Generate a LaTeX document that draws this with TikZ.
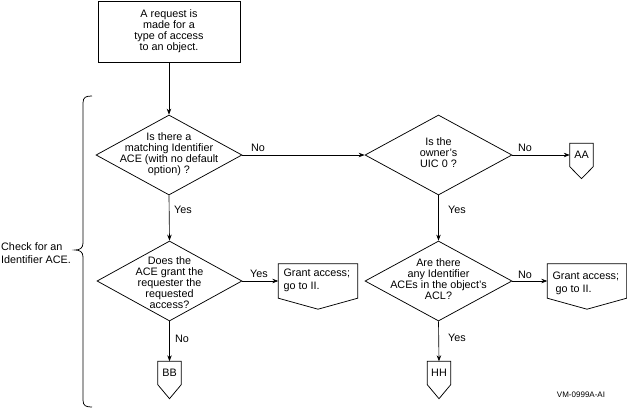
\documentclass[tikz,border=0pt]{standalone}
\usepackage{fontspec}
\setmainfont{Liberation Sans}
\usetikzlibrary{shapes.geometric,arrows.meta,calc}
\tikzset{
  txt/.style={font=\fontsize{10.8}{11}\selectfont, align=center, inner sep=0pt},
  lbl/.style={font=\fontsize{10.8}{11}\selectfont, inner sep=0pt},
  dia/.style={draw, diamond, minimum width=146pt, minimum height=80pt, inner sep=0pt, line width=0.75pt},
  arr/.style={-{Stealth[length=6pt,width=4.5pt]}, line width=0.65pt},
  outl/.style={line width=0.75pt, line join=miter},
  conn/.style={minimum width=23pt, minimum height=23pt, inner sep=0pt, font=\fontsize{10.8}{11}\selectfont},
  grant/.style={minimum width=79pt, minimum height=34pt, inner sep=0pt},
  grtxt/.style={font=\fontsize{10.8}{12.5}\selectfont, align=left, inner sep=0pt, anchor=north west}
}
\begin{document}
\begin{tikzpicture}[x=1pt,y=-1pt]
\useasboundingbox (0,0) rectangle (627,418);
% start box
\node[draw, line width=0.75pt, minimum width=142pt, minimum height=61pt, txt] (start) at (169,31.5)
  {A request is\\made for a\\type of access\\to an object.};
% diamonds
\node[dia] (d1) at (169,155) {};
\node[txt] (t1) at (169,154) {Is there a\\matching Identifier\\ACE (with no default\\option) ?};
\node[dia, minimum width=147pt] (d2) at (438.5,155) {};
\node[txt] (t2) at (438.5,153) {Is the\\owner's\\UIC 0 ?};
\node[dia, minimum width=145pt] (d3) at (169.5,281) {};
\node[txt] (t3) at (169.5,283) {Does the\\ACE grant the\\requester the\\requested\\access?};
\node[dia, minimum width=147pt] (d4) at (438.5,281) {};
\node[txt] (t4) at (438.5,279) {Are there\\any Identifier\\ACEs in the object's\\ACL?};
% grant boxes
\node[grant] (gl) at (318,281) {};
\draw[outl] (gl.north west) -- (gl.north east) -- (gl.south east) -- ($(gl.south)+(0,11)$) -- (gl.south west) -- cycle;
\node[grtxt] (glt) at ($(gl.north west)+(5,5)$) {Grant access;\\go to II.};
\node[grant] (gr) at (587,281) {};
\draw[outl] (gr.north west) -- (gr.north east) -- (gr.south east) -- ($(gr.south)+(0,11)$) -- (gr.south west) -- cycle;
\node[grtxt] (grt) at ($(gr.north west)+(5,8)$) {Grant access;\\\ go to II.};
% off-page connectors
\node[conn] (aa) at (581.5,155) {AA};
\draw[outl] (aa.north west) -- (aa.north east) -- (aa.south east) -- ($(aa.south)+(0,12)$) -- (aa.south west) -- cycle;
\node[conn] (bb) at (169.5,373) {BB};
\draw[outl] (bb.north west) -- (bb.north east) -- (bb.south east) -- ($(bb.south)+(0,14)$) -- (bb.south west) -- cycle;
\node[conn] (hh) at (439,373) {HH};
\draw[outl] (hh.north west) -- (hh.north east) -- (hh.south east) -- ($(hh.south)+(0,14)$) -- (hh.south west) -- cycle;
% connectors
\draw[arr] (start.south) -- (d1.north);
\draw[arr] (d1.east) -- (d2.west);
\draw[arr] (d2.east) -- (aa.west);
\draw[arr] (d1.south) -- (d3.north);
\draw[arr] (d2.south) -- (d4.north);
\draw[arr] (d3.east) -- (gl.west);
\draw[arr] (d4.east) -- (gr.west);
\draw[arr] (d3.south) -- (bb.north);
\draw[arr] (d4.south) -- (hh.north);
% labels
\node[lbl] (l1) at (258,148) {No};
\node[lbl] (l2) at (525,148) {No};
\node[lbl, anchor=west] (l3) at (174,210) {Yes};
\node[lbl] (l4) at (457,210) {Yes};
\node[lbl] (l5) at (259,274) {Yes};
\node[lbl] (l6) at (525,275) {No};
\node[lbl, anchor=west] (l7) at (175,339) {No};
\node[lbl] (l8) at (457,338) {Yes};
% brace
\draw[line width=0.75pt] (92,96) .. controls (86,96) and (83,97) .. (83,103) -- (83,243)
  .. controls (83,248) and (80,250) .. (75,250) .. controls (80,250) and (83,252) .. (83,257)
  -- (83,400) .. controls (83,406) and (86,407) .. (92,407);
\node[lbl, align=left, anchor=west, font=\fontsize{10.8}{12.5}\selectfont] (chk) at (1,253) {Check for an\\Identifier ACE.};
\node[lbl, font=\fontsize{8}{9}\selectfont] (vm) at (581,395) {VM-0999A-AI};
\end{tikzpicture}
\end{document}
